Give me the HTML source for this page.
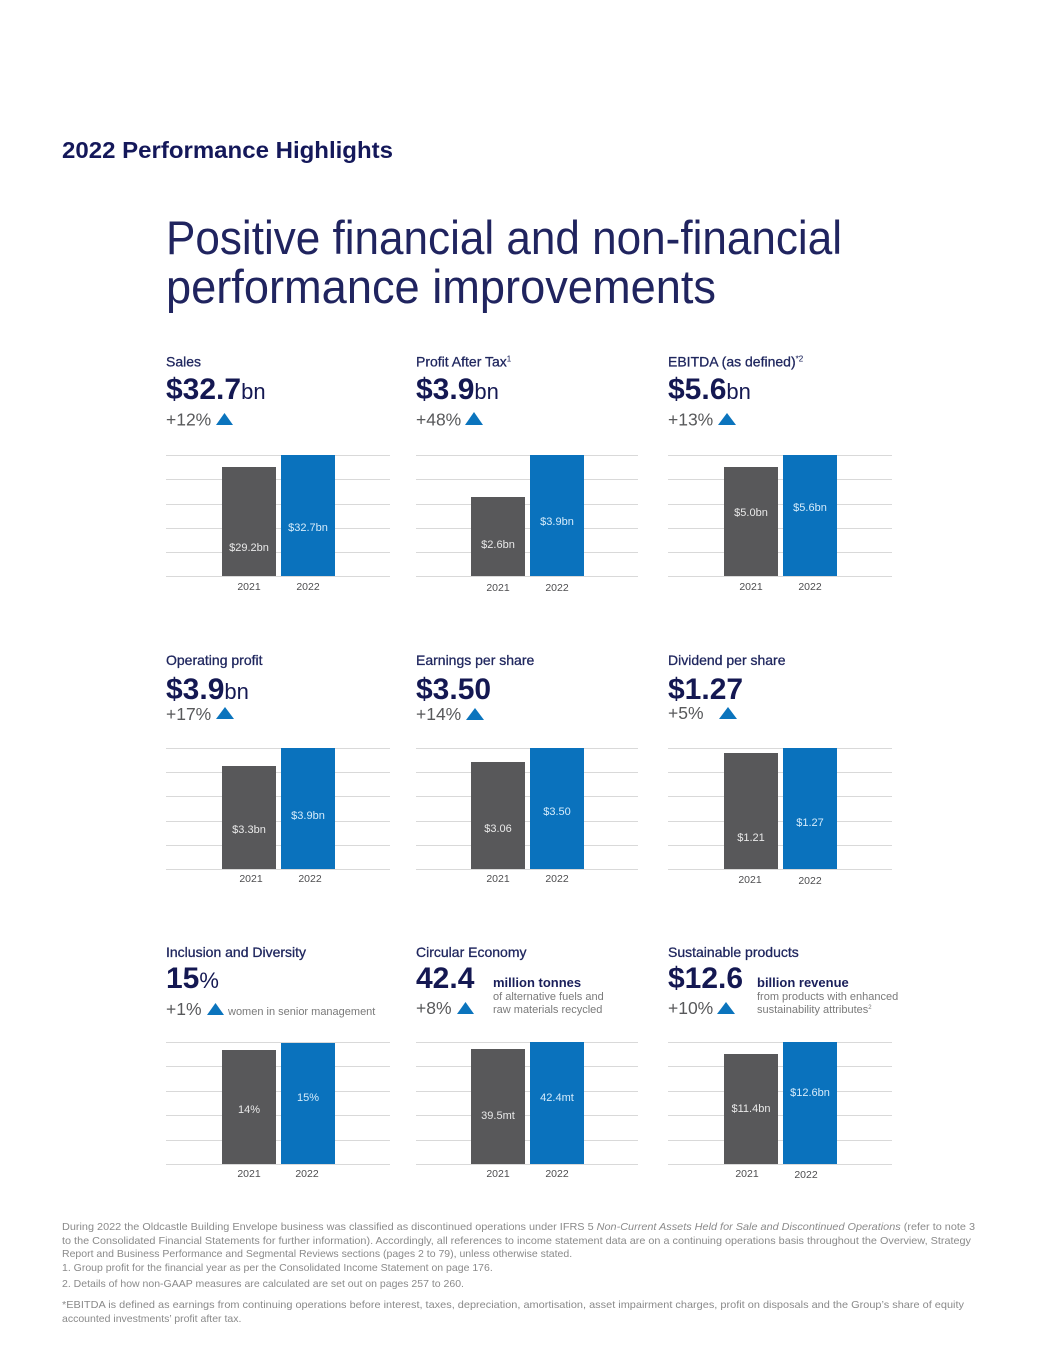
<!DOCTYPE html>
<html>
<head>
<meta charset="utf-8">
<style>
  html, body { margin:0; padding:0; background:#ffffff; }
  svg { display:block; }
  text { font-family: "Liberation Sans", Arial, sans-serif; }
  .hdr { font-size:23px; font-weight:bold; fill:#14185a; }
  .big { font-size:47px; fill:#20245f; }
  .ttl { font-size:14px; fill:#1f265e; stroke:#1f265e; stroke-width:0.3; }
  .num { font-size:30px; font-weight:bold; fill:#141852; }
  .unit { font-size:22px; font-weight:normal; fill:#141852; }
  .chg { font-size:17.5px; fill:#58595b; }
  .blab { font-size:11px; fill:#e9e9e9; text-anchor:middle; }
  .blab2 { font-size:11px; fill:#d6ecfb; text-anchor:middle; }
  .yr { font-size:10.5px; fill:#4d4d4f; text-anchor:middle; }
  .sub { font-size:13px; font-weight:bold; fill:#1a1f5a; }
  .note { font-size:11px; fill:#7a7a7a; }
  .fn { font-size:10.5px; fill:#8a8a8a; }
  .grid line { stroke:#d9d9d9; stroke-width:1; }
</style>
</head>
<body>
<svg width="1053" height="1365" viewBox="0 0 1053 1365" xmlns="http://www.w3.org/2000/svg">
  <rect width="1053" height="1365" fill="#ffffff"/>

  <!-- Header -->
  <text class="hdr" x="62" y="158" textLength="331" lengthAdjust="spacingAndGlyphs">2022 Performance Highlights</text>

  <text class="big" x="166" y="254" textLength="676" lengthAdjust="spacingAndGlyphs">Positive financial and non-financial</text>
  <text class="big" x="166" y="303" textLength="550" lengthAdjust="spacingAndGlyphs">performance improvements</text>

  <!-- ============ ROW 1 ============ -->
  <!-- Sales -->
  <text class="ttl" x="166" y="366.5">Sales</text>
  <text class="num" x="166" y="399">$32.7<tspan class="unit">bn</tspan></text>
  <text class="chg" x="166" y="425.5">+12%</text>
  <polygon points="216,425 233,425 224.5,413" fill="#0b74bd"/>

  <!-- Profit After Tax -->
  <text class="ttl" x="416" y="366.5">Profit After Tax<tspan font-size="8" dy="-5" stroke-width="0.1">1</tspan></text>
  <text class="num" x="416" y="399">$3.9<tspan class="unit">bn</tspan></text>
  <text class="chg" x="416" y="425.5">+48%</text>
  <polygon points="465,425 483,425 474,412" fill="#0b74bd"/>

  <!-- EBITDA -->
  <text class="ttl" x="668" y="366.5">EBITDA (as defined)<tspan font-size="8" dy="-5" stroke-width="0.1">*2</tspan></text>
  <text class="num" x="668" y="399">$5.6<tspan class="unit">bn</tspan></text>
  <text class="chg" x="668" y="425.5">+13%</text>
  <polygon points="718,425 736,425 727,413" fill="#0b74bd"/>

  <!-- Row1 grids -->
  <g class="grid">
    <line x1="166" x2="390" y1="455.5" y2="455.5"/>
    <line x1="166" x2="390" y1="479.5" y2="479.5"/>
    <line x1="166" x2="390" y1="504.5" y2="504.5"/>
    <line x1="166" x2="390" y1="528.5" y2="528.5"/>
    <line x1="166" x2="390" y1="552.5" y2="552.5"/>
    <line x1="166" x2="390" y1="576.5" y2="576.5"/>

    <line x1="416" x2="638" y1="455.5" y2="455.5"/>
    <line x1="416" x2="638" y1="479.5" y2="479.5"/>
    <line x1="416" x2="638" y1="504.5" y2="504.5"/>
    <line x1="416" x2="638" y1="528.5" y2="528.5"/>
    <line x1="416" x2="638" y1="552.5" y2="552.5"/>
    <line x1="416" x2="638" y1="576.5" y2="576.5"/>

    <line x1="668" x2="892" y1="455.5" y2="455.5"/>
    <line x1="668" x2="892" y1="479.5" y2="479.5"/>
    <line x1="668" x2="892" y1="504.5" y2="504.5"/>
    <line x1="668" x2="892" y1="528.5" y2="528.5"/>
    <line x1="668" x2="892" y1="552.5" y2="552.5"/>
    <line x1="668" x2="892" y1="576.5" y2="576.5"/>
  </g>
  <!-- Row1 bars -->
  <rect x="222" y="467" width="54" height="109" fill="#58585a"/>
  <rect x="281" y="455" width="54" height="121" fill="#0a72bd"/>
  <text class="blab" x="249" y="551">$29.2bn</text>
  <text class="blab2" x="308" y="531">$32.7bn</text>
  <text class="yr" x="249" y="590">2021</text>
  <text class="yr" x="308" y="590">2022</text>

  <rect x="471" y="497" width="54" height="79" fill="#58585a"/>
  <rect x="530" y="455" width="54" height="121" fill="#0a72bd"/>
  <text class="blab" x="498" y="548">$2.6bn</text>
  <text class="blab2" x="557" y="525">$3.9bn</text>
  <text class="yr" x="498" y="591">2021</text>
  <text class="yr" x="557" y="591">2022</text>

  <rect x="724" y="467" width="54" height="109" fill="#58585a"/>
  <rect x="783" y="455" width="54" height="121" fill="#0a72bd"/>
  <text class="blab" x="751" y="516">$5.0bn</text>
  <text class="blab2" x="810" y="511">$5.6bn</text>
  <text class="yr" x="751" y="590">2021</text>
  <text class="yr" x="810" y="590">2022</text>

  <!-- ============ ROW 2 ============ -->
  <text class="ttl" x="166" y="665">Operating profit</text>
  <text class="num" x="166" y="699">$3.9<tspan class="unit">bn</tspan></text>
  <text class="chg" x="166" y="720">+17%</text>
  <polygon points="216,719 234,719 225,707" fill="#0b74bd"/>

  <text class="ttl" x="416" y="665">Earnings per share</text>
  <text class="num" x="416" y="699">$3.50</text>
  <text class="chg" x="416" y="720">+14%</text>
  <polygon points="466,720 484,720 475,708" fill="#0b74bd"/>

  <text class="ttl" x="668" y="665">Dividend per share</text>
  <text class="num" x="668" y="699">$1.27</text>
  <text class="chg" x="668" y="719">+5%</text>
  <polygon points="719,719 737,719 728,707" fill="#0b74bd"/>

  <g class="grid">
    <line x1="166" x2="390" y1="748.5" y2="748.5"/>
    <line x1="166" x2="390" y1="772.5" y2="772.5"/>
    <line x1="166" x2="390" y1="796.5" y2="796.5"/>
    <line x1="166" x2="390" y1="821.5" y2="821.5"/>
    <line x1="166" x2="390" y1="845.5" y2="845.5"/>
    <line x1="166" x2="390" y1="869.5" y2="869.5"/>

    <line x1="416" x2="638" y1="748.5" y2="748.5"/>
    <line x1="416" x2="638" y1="772.5" y2="772.5"/>
    <line x1="416" x2="638" y1="796.5" y2="796.5"/>
    <line x1="416" x2="638" y1="821.5" y2="821.5"/>
    <line x1="416" x2="638" y1="845.5" y2="845.5"/>
    <line x1="416" x2="638" y1="869.5" y2="869.5"/>

    <line x1="668" x2="892" y1="748.5" y2="748.5"/>
    <line x1="668" x2="892" y1="772.5" y2="772.5"/>
    <line x1="668" x2="892" y1="796.5" y2="796.5"/>
    <line x1="668" x2="892" y1="821.5" y2="821.5"/>
    <line x1="668" x2="892" y1="845.5" y2="845.5"/>
    <line x1="668" x2="892" y1="869.5" y2="869.5"/>
  </g>

  <rect x="222" y="766" width="54" height="103" fill="#58585a"/>
  <rect x="281" y="748" width="54" height="121" fill="#0a72bd"/>
  <text class="blab" x="249" y="833">$3.3bn</text>
  <text class="blab2" x="308" y="819">$3.9bn</text>
  <text class="yr" x="251" y="882">2021</text>
  <text class="yr" x="310" y="882">2022</text>

  <rect x="471" y="762" width="54" height="107" fill="#58585a"/>
  <rect x="530" y="748" width="54" height="121" fill="#0a72bd"/>
  <text class="blab" x="498" y="832">$3.06</text>
  <text class="blab2" x="557" y="815">$3.50</text>
  <text class="yr" x="498" y="882">2021</text>
  <text class="yr" x="557" y="882">2022</text>

  <rect x="724" y="753" width="54" height="116" fill="#58585a"/>
  <rect x="783" y="748" width="54" height="121" fill="#0a72bd"/>
  <text class="blab" x="751" y="841">$1.21</text>
  <text class="blab2" x="810" y="826">$1.27</text>
  <text class="yr" x="750" y="883">2021</text>
  <text class="yr" x="810" y="884">2022</text>

  <!-- ============ ROW 3 ============ -->
  <text class="ttl" x="166" y="957">Inclusion and Diversity</text>
  <text class="num" x="166" y="988">15<tspan class="unit">%</tspan></text>
  <text class="chg" x="166" y="1015">+1%</text>
  <polygon points="207,1015 224,1015 215.5,1003" fill="#0b74bd"/>
  <text class="note" x="228" y="1015">women in senior management</text>

  <text class="ttl" x="416" y="957">Circular Economy</text>
  <text class="num" x="416" y="988">42.4</text>
  <text class="sub" x="493" y="987">million tonnes</text>
  <text class="note" x="493" y="1000">of alternative fuels and</text>
  <text class="note" x="493" y="1013">raw materials recycled</text>
  <text class="chg" x="416" y="1014">+8%</text>
  <polygon points="457,1014 474,1014 465.5,1002" fill="#0b74bd"/>

  <text class="ttl" x="668" y="957">Sustainable products</text>
  <text class="num" x="668" y="988">$12.6</text>
  <text class="sub" x="757" y="987">billion revenue</text>
  <text class="note" x="757" y="1000">from products with enhanced</text>
  <text class="note" x="757" y="1013">sustainability attributes<tspan font-size="6" dy="-4">2</tspan></text>
  <text class="chg" x="668" y="1014">+10%</text>
  <polygon points="717,1014 735,1014 726,1002" fill="#0b74bd"/>

  <g class="grid">
    <line x1="166" x2="390" y1="1042.5" y2="1042.5"/>
    <line x1="166" x2="390" y1="1066.5" y2="1066.5"/>
    <line x1="166" x2="390" y1="1091.5" y2="1091.5"/>
    <line x1="166" x2="390" y1="1115.5" y2="1115.5"/>
    <line x1="166" x2="390" y1="1140.5" y2="1140.5"/>
    <line x1="166" x2="390" y1="1164.5" y2="1164.5"/>

    <line x1="416" x2="638" y1="1042.5" y2="1042.5"/>
    <line x1="416" x2="638" y1="1066.5" y2="1066.5"/>
    <line x1="416" x2="638" y1="1091.5" y2="1091.5"/>
    <line x1="416" x2="638" y1="1115.5" y2="1115.5"/>
    <line x1="416" x2="638" y1="1140.5" y2="1140.5"/>
    <line x1="416" x2="638" y1="1164.5" y2="1164.5"/>

    <line x1="668" x2="892" y1="1042.5" y2="1042.5"/>
    <line x1="668" x2="892" y1="1066.5" y2="1066.5"/>
    <line x1="668" x2="892" y1="1091.5" y2="1091.5"/>
    <line x1="668" x2="892" y1="1115.5" y2="1115.5"/>
    <line x1="668" x2="892" y1="1140.5" y2="1140.5"/>
    <line x1="668" x2="892" y1="1164.5" y2="1164.5"/>
  </g>

  <rect x="222" y="1050" width="54" height="114" fill="#58585a"/>
  <rect x="281" y="1043" width="54" height="121" fill="#0a72bd"/>
  <text class="blab" x="249" y="1113">14%</text>
  <text class="blab2" x="308" y="1101">15%</text>
  <text class="yr" x="249" y="1177">2021</text>
  <text class="yr" x="307" y="1177">2022</text>

  <rect x="471" y="1049" width="54" height="115" fill="#58585a"/>
  <rect x="530" y="1042" width="54" height="122" fill="#0a72bd"/>
  <text class="blab" x="498" y="1119">39.5mt</text>
  <text class="blab2" x="557" y="1101">42.4mt</text>
  <text class="yr" x="498" y="1177">2021</text>
  <text class="yr" x="557" y="1177">2022</text>

  <rect x="724" y="1054" width="54" height="110" fill="#58585a"/>
  <rect x="783" y="1042" width="54" height="122" fill="#0a72bd"/>
  <text class="blab" x="751" y="1112">$11.4bn</text>
  <text class="blab2" x="810" y="1096">$12.6bn</text>
  <text class="yr" x="747" y="1177">2021</text>
  <text class="yr" x="806" y="1178">2022</text>

  <!-- ============ FOOTNOTES ============ -->
  <text class="fn" x="62" y="1230" textLength="913" lengthAdjust="spacingAndGlyphs">During 2022 the Oldcastle Building Envelope business was classified as discontinued operations under IFRS 5 <tspan font-style="italic">Non-Current Assets Held for Sale and Discontinued Operations</tspan> (refer to note 3</text>
  <text class="fn" x="62" y="1244" textLength="909" lengthAdjust="spacingAndGlyphs">to the Consolidated Financial Statements for further information). Accordingly, all references to income statement data are on a continuing operations basis throughout the Overview, Strategy</text>
  <text class="fn" x="62" y="1257">Report and Business Performance and Segmental Reviews sections (pages 2 to 79), unless otherwise stated.</text>
  <text class="fn" x="62" y="1271">1. Group profit for the financial year as per the Consolidated Income Statement on page 176.</text>
  <text class="fn" x="62" y="1287">2. Details of how non-GAAP measures are calculated are set out on pages 257 to 260.</text>
  <text class="fn" x="62" y="1308" textLength="902" lengthAdjust="spacingAndGlyphs">*EBITDA is defined as earnings from continuing operations before interest, taxes, depreciation, amortisation, asset impairment charges, profit on disposals and the Group’s share of equity</text>
  <text class="fn" x="62" y="1322">accounted investments’ profit after tax.</text>
</svg>
</body>
</html>
